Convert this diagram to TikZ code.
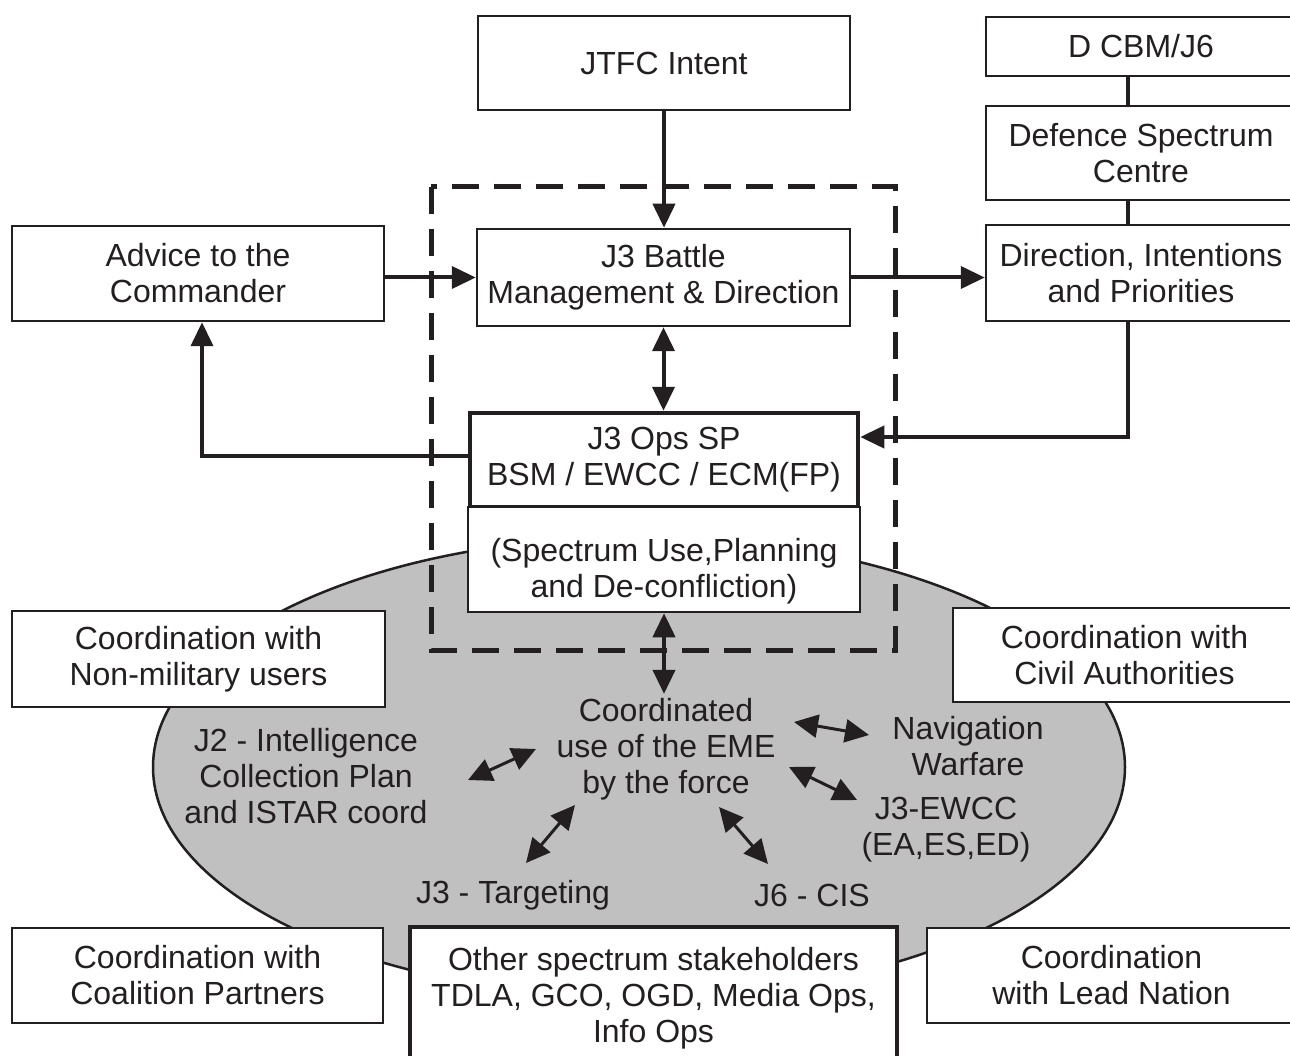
\documentclass[tikz,border=0pt]{standalone}
\usepackage{fontspec}
\setmainfont{Liberation Sans}
\usetikzlibrary{arrows.meta}
\definecolor{ink}{RGB}{35,31,32}
\definecolor{zonegray}{RGB}{192,192,192}
\tikzset{
  txt/.style={align=center, inner sep=0pt, text=ink, font=\fontsize{32}{36}\selectfont},
  box/.style={txt, draw=ink, fill=white, line width=2.5pt},
  thickbox/.style={box, line width=4.5pt},
  conn/.style={draw=ink, line width=4pt, -{Triangle[length=24pt,width=22pt]}},
  link/.style={draw=ink, line width=4.5pt},
  both/.style={draw=ink, line width=4pt, {Triangle[length=24pt,width=22pt]}-{Triangle[length=24pt,width=22pt]}},
  smallboth/.style={draw=ink, line width=3pt, {Triangle[length=24pt,width=23pt]}-{Triangle[length=24pt,width=23pt]}},
  frame/.style={draw=ink, line width=5pt, dash pattern=on 27pt off 15pt},
}
\begin{document}
\begin{tikzpicture}[x=1pt,y=-1pt]
\clip (0,0) rectangle (1290,1056);
\fill[white] (0,0) rectangle (1290,1056);

% shared electromagnetic environment
\filldraw[fill=zonegray, draw=ink, line width=2.5pt] (639,767) ellipse [x radius=486, y radius=230];

% J3 cell boundary
\draw[frame] (431,187) rectangle (895,650);

% command chain
\node[box, minimum width=372pt, minimum height=94pt] (jtfc) at (664,63) {JTFC Intent};
\node[box, minimum width=372pt, minimum height=95pt] (advice) at (198,273.5) {Advice to the\\Commander};
\node[box, minimum width=373pt, minimum height=97pt] (j3bm) at (663.5,277.5) {J3 Battle\\Management \& Direction};
\node[thickbox, minimum width=388pt, minimum height=94pt] (ops) at (664,460) {J3 Ops SP\\BSM / EWCC / ECM(FP)};
\node[box, minimum width=392pt, minimum height=105pt] (spec) at (664,559.5) {};
\node[txt] (spectext) at ([yshift=-12pt]spec.center) {(Spectrum Use,Planning\\and De-confliction)};

% spectrum authority chain
\node[box, minimum width=310pt, minimum height=59pt] (dcbm) at (1141,46.5) {D CBM/J6};
\node[box, minimum width=310pt, minimum height=94pt] (dsc) at (1141,153) {Defence Spectrum\\Centre};
\node[box, minimum width=310pt, minimum height=96pt] (dip) at (1141,273) {Direction, Intentions\\and Priorities};

% coordination partners
\node[box, minimum width=373pt, minimum height=96pt] (nonmil) at (198.5,659) {Coordination with\\Non-military users};
\node[box, minimum width=343pt, minimum height=94pt] (civil) at (1124.5,655) {Coordination with\\Civil Authorities};
\node[box, minimum width=371pt, minimum height=95pt] (coal) at (197.5,975.5) {Coordination with\\Coalition Partners};
\node[box, minimum width=369pt, minimum height=95pt] (lead) at (1111.5,975.5) {Coordination\\with Lead Nation};
\node[thickbox, minimum width=487pt, minimum height=143pt] (other) at (653.5,998.5) {Other spectrum stakeholders\\TDLA, GCO, OGD, Media Ops,\\Info Ops};

% users of the EME
\node[txt] (eme) at (666,749) {Coordinated\\use of the EME\\by the force};
\node[txt] (j2) at (306,776) {J2 - Intelligence\\Collection Plan\\and ISTAR coord};
\node[txt] (nav) at (968,746) {Navigation\\Warfare};
\node[txt] (ewcc) at (946,830) {J3-EWCC\\(EA,ES,ED)};
\node[txt] (targ) at (513,895) {J3 - Targeting};
\node[txt] (cis) at (812,895) {J6 - CIS};

% connectors
\draw[conn] (jtfc.south) -- (jtfc.south |- j3bm.north);
\draw[conn] (advice.east |- j3bm.west) -- (j3bm.west);
\draw[conn] (j3bm.east) -- (j3bm.east -| dip.west);
\draw[both] (j3bm.south) -- (j3bm.south |- ops.north);
\draw[conn] ([yshift=4pt]ops.west) -| ([xshift=4pt]advice.south);
\draw[link] ([xshift=-13pt]dcbm.south) -- ([xshift=-13pt]dsc.north);
\draw[link] ([xshift=-13pt]dsc.south) -- ([xshift=-13pt]dip.north);
\draw[conn] ([xshift=-13pt]dip.south) |- ([yshift=23pt]ops.east);
\draw[both] (spec.south) -- ([yshift=4pt]spec.south |- eme.north);

% links around the EME
\coordinate (j2a) at (468,780);  \coordinate (j2b) at (536,749);
\coordinate (nava) at (794,722); \coordinate (navb) at (869,735);
\coordinate (ewa) at (789,767);  \coordinate (ewb) at (857,800);
\coordinate (tga) at (575,805);  \coordinate (tgb) at (526,863);
\coordinate (cia) at (719,807);  \coordinate (cib) at (768,864);
\draw[smallboth] (j2a) -- (j2b);
\draw[smallboth] (nava) -- (navb);
\draw[smallboth] (ewa) -- (ewb);
\draw[smallboth] (tga) -- (tgb);
\draw[smallboth] (cia) -- (cib);
\end{tikzpicture}
\end{document}
